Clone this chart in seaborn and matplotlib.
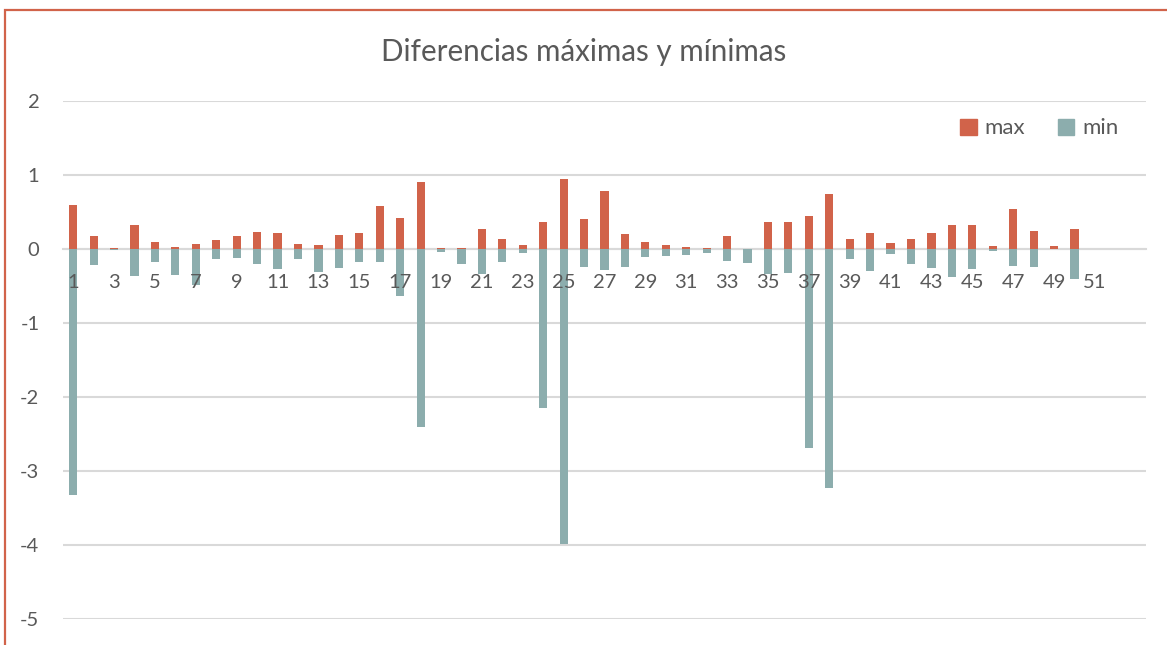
import matplotlib
matplotlib.use("Agg")
import matplotlib.pyplot as plt
import matplotlib.patches as mpatches
import numpy as np
import pandas as pd
import seaborn as sns

# Daily max / min differences for 51 observations
categories = [str(i) for i in range(1, 52)]
max_values = [0.60, 0.17, 0.02, 0.32, 0.10, 0.03, 0.07, 0.12, 0.18, 0.23,
              0.22, 0.07, 0.05, 0.19, 0.22, 0.58, 0.42, 0.91, 0.02, 0.01,
              0.27, 0.14, 0.05, 0.36, 0.95, 0.41, 0.79, 0.20, 0.10, 0.06,
              0.03, 0.02, 0.17, 0.00, 0.36, 0.36, 0.44, 0.75, 0.14, 0.21,
              0.08, 0.13, 0.21, 0.32, 0.33, 0.04, 0.54, 0.24, 0.04, 0.27,
              0.00]
min_values = [-3.33, -0.21, -0.01, -0.36, -0.17, -0.35, -0.49, -0.14, -0.12, -0.20,
              -0.27, -0.14, -0.31, -0.26, -0.18, -0.17, -0.64, -2.40, -0.04, -0.20,
              -0.34, -0.18, -0.06, -2.15, -3.98, -0.24, -0.28, -0.24, -0.11, -0.09,
              -0.08, -0.05, -0.16, -0.19, -0.34, -0.33, -2.69, -3.23, -0.14, -0.30,
              -0.07, -0.20, -0.25, -0.38, -0.27, -0.03, -0.23, -0.24, 0.00, -0.41,
              0.00]
series_names = ["max", "min"]
series_colors = ["#D1634A", "#8CADAD"]
title = "Diferencias máximas y mínimas"

df = pd.DataFrame({
    "categoria": categories * 2,
    "serie": [series_names[0]] * len(categories) + [series_names[1]] * len(categories),
    "valor": max_values + min_values,
})

sns.set_theme(style="white")
plt.rcParams["font.family"] = ["Lato", "DejaVu Sans"]
plt.rcParams["axes.unicode_minus"] = False
text_color = "#595959"
grid_color = "#D9D9D9"

fig = plt.figure(figsize=(11.67, 6.45), dpi=100)
ax = fig.add_axes([0.054, 0.0403, 0.928, 0.8031])

sns.barplot(data=df, x="categoria", y="valor", hue="serie", order=categories,
            hue_order=series_names, palette=series_colors, dodge=False,
            width=0.4, saturation=1, errorbar=None, legend=False, ax=ax,
            linewidth=0)

ax.set_ylim(-5, 2)
# category axis leaves two empty slots after the last observation
ax.set_xlim(-0.5, len(categories) + 1.5)
ax.set_yticks(range(-5, 3))
# horizontal gridlines sit underneath the bars; tick labels stay on top
for yv in range(-5, 3):
    ax.axhline(yv, color=grid_color, linewidth=1.5, zorder=0)
ax.set_axisbelow(False)

for side in ["top", "right", "left"]:
    ax.spines[side].set_visible(False)
ax.spines["bottom"].set_position(("data", 0))
ax.spines["bottom"].set_color(grid_color)
ax.spines["bottom"].set_linewidth(1.5)
ax.spines["bottom"].set_zorder(0.5)

ax.set_xticks(range(0, len(categories), 2))
ax.set_xticklabels(categories[::2])
ax.tick_params(axis="x", length=0, pad=18, labelsize=14.5, labelcolor=text_color)
ax.tick_params(axis="y", length=0, pad=17, labelsize=14.5, labelcolor=text_color)
ax.set_xlabel("")
ax.set_ylabel("")

handles = [mpatches.Patch(color=c, label=n) for n, c in zip(series_names, series_colors)]
ax.legend(handles=handles, loc="upper right", bbox_to_anchor=(0.993, 1.005),
          ncol=2, frameon=False, fontsize=16, labelcolor=text_color,
          handlelength=0.75, handleheight=0.75, handletextpad=0.35, columnspacing=1.45)

fig.text(0.5, 0.92, title, ha="center", va="center", fontsize=21.3, color=text_color)

# Chart area frame
frame = mpatches.Rectangle((5 / 1167, -0.05), 1.2, 1 - 10 / 645 + 0.05,
                           transform=fig.transFigure, fill=False,
                           edgecolor="#D1634A", linewidth=1.6, clip_on=False)
fig.patches.append(frame)

fig.savefig("out.png", dpi=100)
